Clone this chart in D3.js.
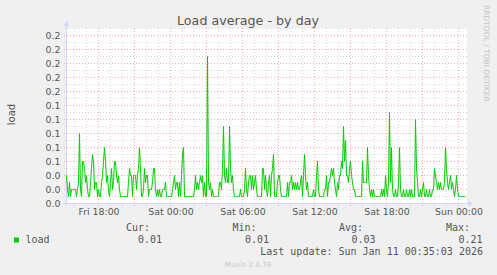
<!DOCTYPE html>
<html><head><meta charset="utf-8">
<script src="https://cdn.jsdelivr.net/npm/d3@7"></script>
<style>
html,body{margin:0;padding:0;background:#f0f0f0;}
svg{display:block;}
</style></head><body>
<svg id="c" width="497" height="275"></svg>
<script>
// 5-minute load samples, Fri Jan 9 2026 15:20 UTC .. Sun Jan 11 00:35
const loadValues = [
0.04,0.02,0.01,0.03,0.01,0.02,0.02,0.02,0.02,0.02,
0.01,0.02,0.03,0.10,0.02,0.01,0.06,0.06,0.05,0.03,
0.04,0.02,0.01,0.01,0.03,0.05,0.07,0.06,0.02,0.03,
0.03,0.01,0.02,0.01,0.01,0.03,0.04,0.06,0.08,0.06,
0.03,0.04,0.02,0.01,0.03,0.05,0.02,0.03,0.06,0.06,
0.04,0.03,0.04,0.02,0.01,0.01,0.01,0.01,0.01,0.01,
0.01,0.01,0.03,0.05,0.04,0.04,0.01,0.04,0.04,0.04,
0.02,0.04,0.05,0.08,0.05,0.01,0.01,0.02,0.05,0.03,
0.04,0.04,0.01,0.02,0.02,0.02,0.03,0.05,0.05,0.02,
0.01,0.02,0.01,0.02,0.01,0.01,0.02,0.02,0.02,0.03,
0.01,0.01,0.01,0.01,0.01,0.01,0.02,0.03,0.04,0.02,
0.03,0.03,0.01,0.03,0.01,0.04,0.07,0.08,0.01,0.01,
0.01,0.01,0.01,0.01,0.01,0.01,0.01,0.01,0.02,0.04,
0.02,0.03,0.02,0.03,0.04,0.03,0.04,0.01,0.03,0.01,
0.01,0.21,0.03,0.02,0.03,0.01,0.02,0.01,0.01,0.01,
0.01,0.01,0.01,0.03,0.03,0.02,0.05,0.11,0.04,0.03,
0.05,0.03,0.03,0.11,0.05,0.03,0.04,0.02,0.01,0.01,
0.01,0.01,0.01,0.01,0.02,0.01,0.01,0.01,0.02,0.05,
0.02,0.01,0.03,0.04,0.04,0.02,0.04,0.02,0.03,0.04,
0.02,0.01,0.01,0.01,0.01,0.01,0.05,0.05,0.02,0.04,
0.02,0.01,0.03,0.04,0.01,0.04,0.05,0.07,0.01,0.01,
0.01,0.03,0.04,0.04,0.02,0.01,0.01,0.01,0.01,0.01,
0.01,0.03,0.01,0.03,0.03,0.04,0.02,0.03,0.02,0.03,
0.02,0.03,0.02,0.02,0.03,0.04,0.01,0.04,0.07,0.04,
0.02,0.03,0.01,0.01,0.01,0.01,0.01,0.02,0.01,0.01,
0.04,0.06,0.02,0.01,0.01,0.01,0.01,0.01,0.02,0.02,
0.04,0.01,0.03,0.03,0.04,0.05,0.04,0.05,0.03,0.02,
0.01,0.03,0.02,0.04,0.04,0.06,0.05,0.11,0.06,0.09,
0.04,0.04,0.03,0.05,0.06,0.04,0.03,0.02,0.02,0.01,
0.01,0.01,0.01,0.01,0.01,0.01,0.06,0.03,0.03,0.03,
0.03,0.08,0.04,0.02,0.01,0.02,0.01,0.02,0.01,0.01,
0.01,0.01,0.01,0.01,0.01,0.02,0.01,0.02,0.01,0.04,
0.02,0.01,0.03,0.13,0.03,0.08,0.02,0.01,0.01,0.02,
0.01,0.01,0.03,0.08,0.02,0.01,0.01,0.02,0.01,0.01,
0.02,0.01,0.01,0.02,0.01,0.02,0.01,0.01,0.01,0.12,
0.05,0.03,0.01,0.01,0.02,0.01,0.02,0.03,0.01,0.01,
0.02,0.01,0.01,0.02,0.01,0.01,0.02,0.02,0.05,0.04,
0.03,0.02,0.03,0.02,0.03,0.02,0.02,0.02,0.03,0.08,
0.05,0.03,0.02,0.03,0.04,0.02,0.03,0.02,0.01,0.02,
0.04,0.02,0.01,0.01,0.01,0.01,0.01,0.01,0.01,0.01
];
const yTickValues = [0,0.02,0.04,0.06,0.08,0.10,0.12,0.14,0.16,0.18,0.20,0.22,0.24];
const yTickLabels = ["0.0","0.0","0.0","0.1","0.1","0.1","0.1","0.1","0.2","0.2","0.2","0.2","0.2"];
const xTickLabels = ["Fri 18:00","Sat 00:00","Sat 06:00","Sat 12:00","Sat 18:00","Sun 00:00"];
const xTickDates = [Date.UTC(2026,0,9,18),Date.UTC(2026,0,10,0),Date.UTC(2026,0,10,6),Date.UTC(2026,0,10,12),Date.UTC(2026,0,10,18),Date.UTC(2026,0,11,0)].map(d=>new Date(d));
const statLabels = ["Cur:","Min:","Avg:","Max:"];
const statValues = ["0.01","0.01","0.03","0.21"];
const seriesName = "load";
const lastUpdate = "Last update: Sun Jan 11 00:35:03 2026";

const t0 = Date.UTC(2026,0,9,15,20);
const step = 5*60*1000;
const svg = d3.select("#c");
const x = d3.scaleUtc().domain([new Date(t0), new Date(t0+400*step)]).range([66.5,466.5]);
const y = d3.scaleLinear().domain([0,0.25]).range([203.5,28.5]);

svg.append("rect").attr("width",497).attr("height",275).attr("fill","#f0f0f0");
svg.append("rect").attr("x",66).attr("y",28).attr("width",401).attr("height",176).attr("fill","#ffffff");

const grid = svg.append("g");
const minorY = d3.range(0,26).map(i=>i/100);
grid.selectAll("line.hmin").data(minorY.filter(v=>Math.round(v*100)%2!==0 || v>0.245)).join("line")
  .attr("x1",64).attr("x2",467).attr("y1",d=>y(d)).attr("y2",d=>y(d))
  .attr("stroke","#d8d8d8").attr("stroke-dasharray","1,2");
const hours = d3.utcHour.range(new Date(t0), new Date(t0+400*step));
grid.selectAll("line.vmin").data(hours.filter(d=>d.getUTCHours()%3!==0)).join("line")
  .attr("x1",d=>Math.round(x(d)-0.5)+0.5).attr("x2",d=>Math.round(x(d)-0.5)+0.5).attr("y1",28).attr("y2",206)
  .attr("stroke","#d8d8d8").attr("stroke-dasharray","1,2");
grid.selectAll("line.hmaj").data(yTickValues.slice(1)).join("line")
  .attr("x1",64).attr("x2",467).attr("y1",d=>y(d)).attr("y2",d=>y(d))
  .attr("stroke","#f7a8a8").attr("stroke-dasharray","1,2");
grid.selectAll("line.vmaj").data(hours.filter(d=>d.getUTCHours()%3===0)).join("line")
  .attr("x1",d=>Math.round(x(d)-0.5)+0.5).attr("x2",d=>Math.round(x(d)-0.5)+0.5).attr("y1",28).attr("y2",206)
  .attr("stroke","#f7a8a8").attr("stroke-dasharray","1,2");

// axes lines + arrows
const axC = "#cfd6f8";
svg.append("line").attr("x1",63).attr("x2",469).attr("y1",203.5).attr("y2",203.5).attr("stroke",axC);
svg.append("path").attr("d","M468,200.5L473,203.5L468,206.5Z").attr("fill",axC);
svg.append("line").attr("x1",66.5).attr("x2",66.5).attr("y1",206).attr("y2",25).attr("stroke",axC);
svg.append("path").attr("d","M63.5,26L66.5,21L69.5,26Z").attr("fill",axC);

// tick labels
const yAx = svg.append("g").attr("transform","translate(66.5,0)")
  .call(d3.axisLeft(y).tickValues(yTickValues).tickFormat((d,i)=>yTickLabels[i]).tickSize(0).tickPadding(6));
const xAx = svg.append("g").attr("transform","translate(0,203.5)")
  .call(d3.axisBottom(x).tickValues(xTickDates).tickFormat((d,i)=>xTickLabels[i]).tickSize(0).tickPadding(5));
[yAx,xAx].forEach(g=>{
  g.select(".domain").remove();
  g.selectAll("text").attr("font-family","DejaVu Sans").attr("font-size","9.4px").attr("fill","#555");
});

// series line
const line = d3.line().x((d,i)=>x(new Date(t0+i*step))).y(d=>y(d)+0.0);
svg.append("path").datum(loadValues).attr("d",line).attr("fill","none")
  .attr("stroke","#00cc00").attr("stroke-width",1).attr("stroke-linejoin","miter");

// title
svg.append("text").attr("x",248).attr("y",24.5).attr("text-anchor","middle")
  .attr("font-family","DejaVu Sans").attr("font-size","12.7px").attr("fill","#555").text("Load average - by day");
// y label
svg.append("text").attr("transform","translate(14.5,114.5) rotate(-90)").attr("text-anchor","middle")
  .attr("font-family","DejaVu Sans").attr("font-size","10px").attr("fill","#555").text(seriesName);
// watermark
svg.append("text").attr("transform","translate(486.7,5) rotate(90)").attr("dy","0.36em")
  .attr("font-family","DejaVu Sans").attr("font-size","7.5px").attr("fill","#c4c4c4").text("RRDTOOL / TOBI OETIKER");

// legend
const mono = "DejaVu Sans Mono";
const statX = [126,232.5,339,446];
const valX = [138,245,351.5,458.5];
svg.selectAll("text.sl").data(statLabels).join("text").attr("x",(d,i)=>statX[i]).attr("y",231)
  .attr("font-family",mono).attr("font-size","10px").attr("fill","#555").text(d=>d);
svg.selectAll("text.sv").data(statValues).join("text").attr("x",(d,i)=>valX[i]).attr("y",243)
  .attr("font-family",mono).attr("font-size","10px").attr("fill","#555").text(d=>d);
svg.append("rect").attr("x",14).attr("y",237.5).attr("width",5).attr("height",5).attr("fill","#00cc00");
svg.append("text").attr("x",25.5).attr("y",243).attr("font-family",mono).attr("font-size","10px").attr("fill","#555").text(seriesName);
svg.append("text").attr("x",483).attr("y",255).attr("text-anchor","end").attr("font-family",mono).attr("font-size","10px").attr("fill","#555").text(lastUpdate);
svg.append("text").attr("x",248).attr("y",267).attr("text-anchor","middle").attr("font-family","DejaVu Sans").attr("font-size","7.1px").attr("fill","#c8c8c8").text("Munin 2.0.76");
</script>
</body></html>
